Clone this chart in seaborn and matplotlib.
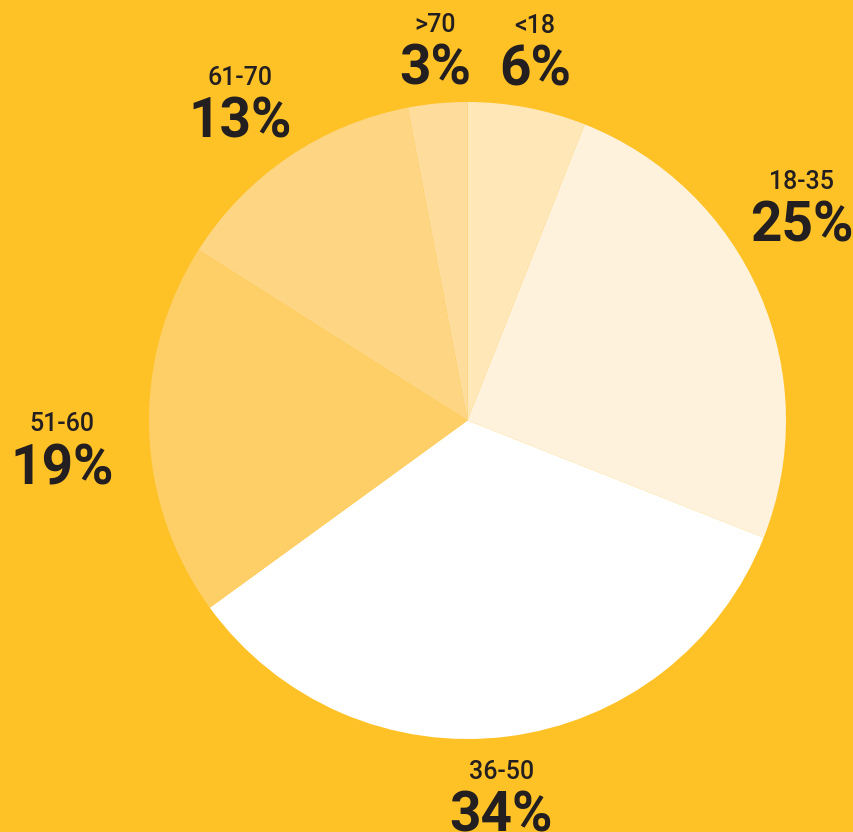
import matplotlib
matplotlib.use("Agg")
import matplotlib.pyplot as plt
import seaborn as sns
import numpy as np

# age groups, clockwise from 12 o'clock
age_groups = ['<18', '18-35', '36-50', '51-60', '61-70', '>70']
shares = [6, 25, 34, 19, 13, 3]
slice_colors = ['#FFE7B8', '#FFF2DC', '#FFFFFF', '#FECF66', '#FDD583', '#FEDC9C']

BG = '#FFC226'
INK = '#231F20'

# label placement: radius and angle nudge (deg) per slice
label_radius = [1.13, 1.22, 1.236, 1.281, 1.186, 1.118]
label_nudge = [0.0, 7.2, -2.3, 4.5, 2.8, -0.2]

sns.set_theme(style="white")
plt.rcParams['font.family'] = ['Roboto', 'DejaVu Sans']

W, H = 854, 832
cx, cy, R = 467.5, 420.5, 318.5

fig = plt.figure(figsize=(W / 100, H / 100), dpi=100, facecolor=BG)
ax = fig.add_axes([0, 0, 1, 1])
ax.set_facecolor(BG)

wedges, _ = ax.pie(shares, colors=slice_colors, startangle=90,
                   counterclock=False, radius=1,
                   wedgeprops=dict(linewidth=0))

ax.set_xlim(-cx / R, (W - cx) / R)
ax.set_ylim(-(H - cy) / R, cy / R)
ax.set_aspect('auto')
ax.axis('off')

for w, grp, val, r, nudge in zip(wedges, age_groups, shares, label_radius, label_nudge):
    mid = np.deg2rad((w.theta1 + w.theta2) / 2 + nudge)
    x, y = r * np.cos(mid), r * np.sin(mid) - 4 / R
    ax.text(x, y, f'{val}%', ha='center', va='center', fontsize=39.5,
            fontweight='bold', color=INK)
    ax.text(x, y + 45 / R, grp, ha='center', va='center', fontsize=18,
            fontweight='medium', color=INK)

fig.savefig('out.png', dpi=100, facecolor=BG)
